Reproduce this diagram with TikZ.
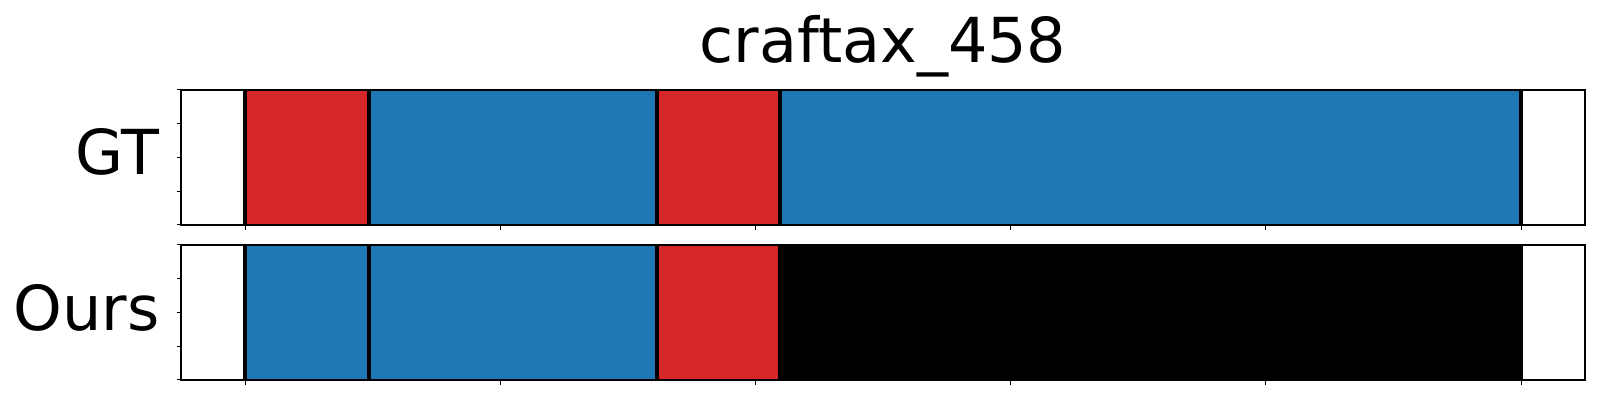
\documentclass[tikz,border=0pt]{standalone}
\usepackage{fontspec}
\setmainfont{DejaVu Sans}
\usepackage{xcolor}
\definecolor{tabred}{HTML}{D62728}
\definecolor{tabblue}{HTML}{1F77B4}

\begin{document}
\begin{tikzpicture}[x=0.5pt,y=-0.5pt]
        \useasboundingbox (0,0) rectangle (1600,400);
        \coordinate (GTa) at (181,90);
        \coordinate (GTb) at (1585,225);
        \coordinate (OUa) at (181,245);
        \coordinate (OUb) at (1585,380);

        % segments
        \foreach \a/\b/\c in {245/369/tabred,369/657/tabblue,657/780/tabred,780/1521/tabblue}
            \fill[\c] (\a,90) rectangle (\b,225);
        \foreach \a/\b/\c in {245/369/tabblue,369/657/tabblue,657/780/tabred,780/1521/black}
            \fill[\c] (\a,245) rectangle (\b,380);

        % boundaries
        \foreach \x in {245,369,657,780,1521} {
            \draw[line width=2pt] (\x,90) -- (\x,225);
            \draw[line width=2pt] (\x,245) -- (\x,380);
        }

        % axes and ticks
        \draw[line width=0.6pt] (GTa) rectangle (GTb);
        \draw[line width=0.6pt] (OUa) rectangle (OUb);
        \foreach \i in {0,...,5} {
            \draw[line width=0.5pt] (245+255.2*\i,225) -- ++(0,5);
            \draw[line width=0.5pt] (245+255.2*\i,380) -- ++(0,5);
        }
        \foreach \j in {0,...,4} {
            \draw[line width=0.5pt] (181,90+33.75*\j) -- ++(-4.5,0);
            \draw[line width=0.5pt] (181,245+33.75*\j) -- ++(-4.5,0);
        }

        \node[anchor=base,inner sep=0,font=\fontsize{31}{36}\selectfont] (title) at (883,62.7) {craftax\_458};
        \node[anchor=base east,inner sep=0,font=\fontsize{31}{36}\selectfont] (gt) at (160,175) {GT};
        \node[anchor=base east,inner sep=0,font=\fontsize{31}{36}\selectfont] (ours) at (160,331) {Ours};
    \end{tikzpicture}
\end{document}
